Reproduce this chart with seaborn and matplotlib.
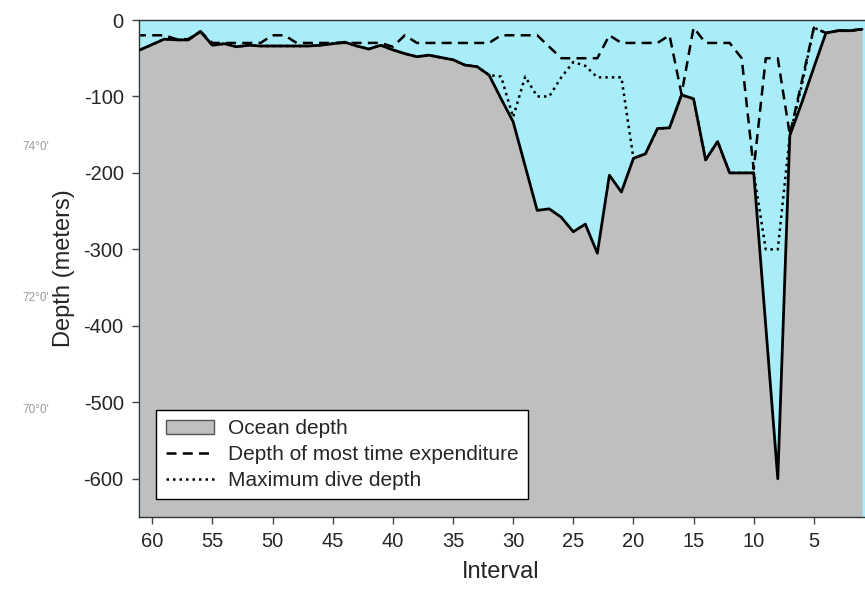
import numpy as np
import pandas as pd
import matplotlib
matplotlib.use("Agg")
import matplotlib.pyplot as plt
from matplotlib.patches import Patch
from matplotlib.lines import Line2D
import seaborn as sns

# interval numbers (plotted right-to-left)
intervals = list(range(61, 0, -1))

# ocean depth (m), intervals 61 -> 1
ocean_depth = [-39, -32, -25, -26, -26, -15, -33, -31, -35, -33,
               -34, -34, -34, -34, -34, -33, -31, -29, -34, -38,
               -33, -39, -44, -48, -46, -49, -52, -59, -61, -72,
               -103, -133, -191, -249, -247, -258, -277, -267, -305, -203,
               -225, -181, -175, -142, -141, -98, -103, -183, -159, -200,
               -200, -200, -400, -600, -151, -108, -62, -17, -14, -14,
               -12]

# depth of most time expenditure
time_depth = [-20, -20, -20, -25, -25, -15, -30, -30, -30, -30,
              -30, -20, -20, -30, -30, -30, -30, -30, -30, -30,
              -30, -35, -20, -30, -30, -30, -30, -30, -30, -30,
              -20, -20, -20, -20, -35, -50, -50, -50, -50, -20,
              -30, -30, -30, -30, -20, -97, -10, -30, -30, -30,
              -50, -195, -50, -50, -150, -80, -10, -17, -14, -14,
              -12]

# maximum dive depth
max_depth = [-39, -32, -25, -26, -26, -15, -33, -31, -35, -33,
             -34, -34, -34, -34, -34, -33, -31, -29, -34, -38,
             -33, -39, -44, -48, -46, -49, -52, -59, -61, -72,
             -74, -127, -74, -100, -100, -75, -55, -60, -75, -75,
             -75, -181, -175, -142, -141, -98, -103, -183, -159, -200,
             -200, -200, -300, -300, -151, -85, -10, -17, -14, -14,
             -12]

df = pd.DataFrame({"Interval": intervals, "ocean": ocean_depth,
                   "time": time_depth, "maxdive": max_depth})

sns.set_style("white")
plt.rcParams["font.family"] = ["Liberation Sans", "DejaVu Sans"]
plt.rcParams["axes.unicode_minus"] = False

fig = plt.figure(figsize=(8.65, 5.91), dpi=100)
ax = fig.add_axes([139 / 865, 74 / 591, 1 - 139 / 865, (517 - 20) / 591])

ax.set_facecolor("#A8EDF7")
ax.fill_between(df["Interval"], df["ocean"], -700, color="#C0BFBF", linewidth=0, zorder=1)

sns.lineplot(data=df, x="Interval", y="ocean", ax=ax, color="black", linewidth=2.0, zorder=4)
sns.lineplot(data=df, x="Interval", y="time", ax=ax, color="black", linewidth=1.8,
             linestyle=(0, (4, 2.5)), zorder=3)
sns.lineplot(data=df, x="Interval", y="maxdive", ax=ax, color="black", linewidth=1.8,
             linestyle=(0, (1, 1.6)), zorder=3)

ax.set_xlim(61.1, 0.75)
ax.set_ylim(-650, 0)
ax.set_xticks([60, 55, 50, 45, 40, 35, 30, 25, 20, 15, 10, 5])
ax.set_yticks([0, -100, -200, -300, -400, -500, -600])
ax.tick_params(axis="both", direction="out", length=5, width=1, color="#444444",
               labelsize=14.5, left=True, bottom=True, pad=6)

ax.set_xlabel("Interval", fontsize=17)
ax.set_ylabel("Depth (meters)", fontsize=17)
ax.xaxis.set_label_coords(0.498, -0.088)
ax.yaxis.set_label_coords(-0.088, 0.5)

for s in ["left", "bottom", "top"]:
    ax.spines[s].set_visible(True)
    ax.spines[s].set_color("#333333")
    ax.spines[s].set_linewidth(1.0)
ax.spines["right"].set_visible(False)

handles = [Patch(facecolor="#C0BFBF", edgecolor="#555555", linewidth=1.0),
           Line2D([], [], color="black", linewidth=1.8, linestyle=(0, (4, 2.5))),
           Line2D([], [], color="black", linewidth=1.8, linestyle=(0, (1, 1.6)))]
labels = ["Ocean depth", "Depth of most time expenditure", "Maximum dive depth"]
leg = ax.legend(handles, labels, loc="lower left", bbox_to_anchor=(0.024, 0.036),
                fontsize=15, frameon=True, fancybox=False, framealpha=1,
                edgecolor="black", handlelength=2.3, handleheight=0.6,
                borderpad=0.45, labelspacing=0.32, handletextpad=0.7,
                borderaxespad=0)
leg.get_frame().set_linewidth(1.0)

# stray map labels on the left margin
for txt, ypix in [("74°0'", 147), ("72°0'", 298), ("70°0'", 410)]:
    fig.text(22 / 865, 1 - ypix / 591, txt, fontsize=8.5, color="#9a9a9a", va="center")

fig.savefig("out.png", dpi=100)
